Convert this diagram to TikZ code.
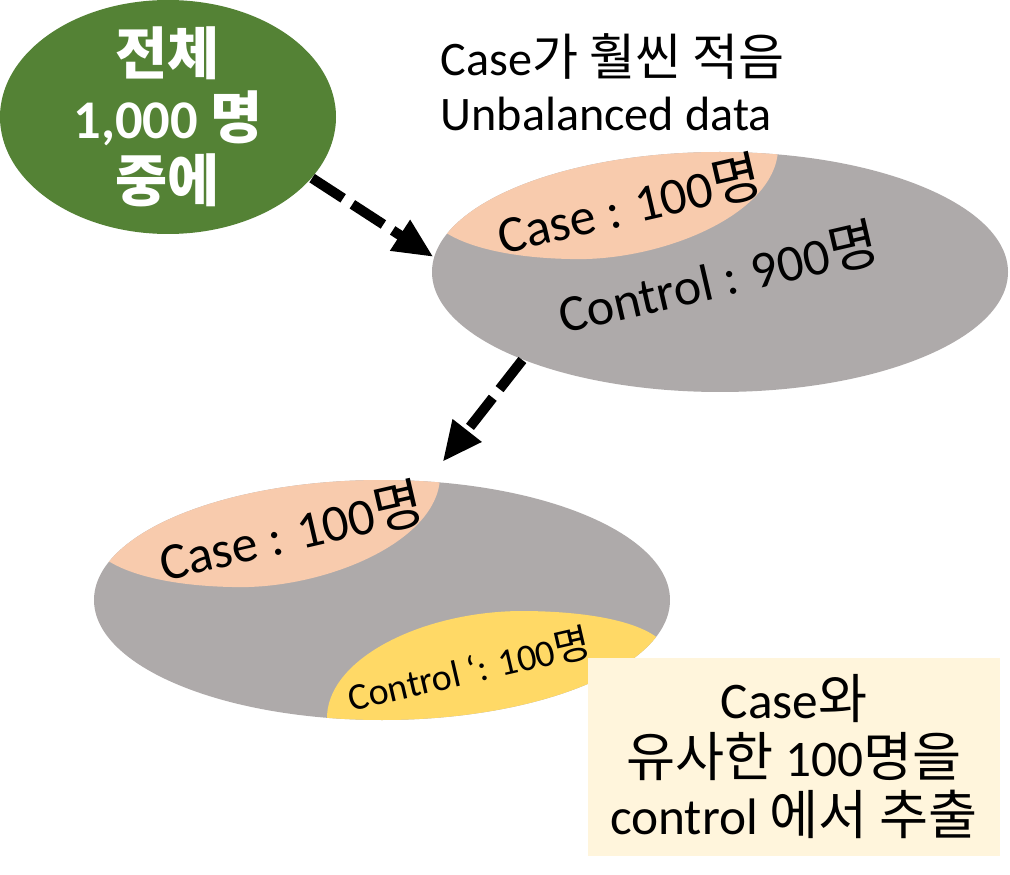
\documentclass[tikz,border=0pt]{standalone}
\usepackage{fontspec}
\setmainfont{Carlito}
\newfontfamily\kr{Noto Sans CJK KR}[Scale=1.04]
\usetikzlibrary{arrows.meta,shapes.geometric,positioning}
\definecolor{wholegreen}{HTML}{548235}
\definecolor{restgray}{HTML}{AEAAAA}
\definecolor{casepeach}{HTML}{F8CBAD}
\definecolor{pickyellow}{HTML}{FFD966}
\definecolor{notecream}{HTML}{FFF5DC}

\begin{document}
\begin{tikzpicture}[
    group/.style={ellipse, fill=restgray, minimum width=5.76cm, minimum height=2.4cm, inner sep=0pt},
    tag/.style={font=\fontsize{14.8}{16}\selectfont, rotate=13, inner sep=0pt},
    dasharr/.style={-{Triangle[length=0.4cm,width=0.34cm]}, line width=0.1cm, dash pattern=on 0.37cm off 0.11cm}
]
\useasboundingbox (0,0) rectangle (10.10,8.74);

\node[ellipse, fill=wholegreen, minimum width=3.36cm, minimum height=2.34cm, inner sep=0pt] (whole) at (1.68,7.57) {};
\node[align=center, text=white, font=\bfseries\fontsize{15.5}{18}\selectfont] (wholetext) at (whole.center) {{\kr 전체}\\1,000 {\kr 명}\\{\kr 중에}};

\node[align=left, anchor=west, inner sep=0pt, font=\fontsize{13.7}{15.6}\selectfont] (note) at (4.40,7.92) {Case{\kr 가 훨씬 적음}\\Unbalanced data};

\node[group] (before) at (7.20,6.02) {};
\node[group] (after) at (3.82,2.74) {};

\begin{scope}
  \clip (before.center) ellipse (2.88cm and 1.2cm);
  \fill[casepeach] (7.78,7.74) -- (7.78,7.24) .. controls (7.75,6.59) and (6.60,6.12) .. (5.70,6.15) .. controls (5.20,6.16) and (4.75,6.24) .. (4.48,6.40) -- (4.20,6.40) -- (4.20,7.74) -- cycle;
\end{scope}
\begin{scope}
  \clip (after.center) ellipse (2.88cm and 1.2cm);
  \begin{scope}[shift={(-3.38,-3.28)}]
    \fill[casepeach] (7.78,7.74) -- (7.78,7.24) .. controls (7.75,6.59) and (6.60,6.12) .. (5.70,6.15) .. controls (5.20,6.16) and (4.75,6.24) .. (4.48,6.40) -- (4.20,6.40) -- (4.20,7.74) -- cycle;
  \end{scope}
  \fill[pickyellow] (3.27,1.14) -- (3.27,1.54) .. controls (3.25,2.14) and (4.20,2.62) .. (5.20,2.63) .. controls (5.90,2.63) and (6.40,2.52) .. (6.60,2.34) -- (7.0,2.34) -- (7.0,1.14) -- cycle;
\end{scope}

\node[tag] (casea) at (6.29,6.70) {Case : 100{\kr 명}};
\node[tag] (ctrla) at (7.18,5.97) {Control : 900{\kr 명}};
\node[tag] (caseb) at (2.91,3.43) {Case : 100{\kr 명}};
\node[tag, font=\fontsize{10.8}{12}\selectfont] (ctrlb) at (4.69,2.05) {Control ‘: 100{\kr 명}};

\draw[dasharr] (whole.-23) -- (before.177);
\draw[dasharr, shorten >=0.24cm] (before.204) -- (after.69);

\node[fill=notecream, minimum width=4.12cm, minimum height=1.98cm, align=center, font=\fontsize{14.6}{16.5}\selectfont] (memo) at (7.94,1.17) {Case{\kr 와}\\{\kr 유사한} 100{\kr 명을}\\control {\kr 에서 추출}};
\end{tikzpicture}
\end{document}
